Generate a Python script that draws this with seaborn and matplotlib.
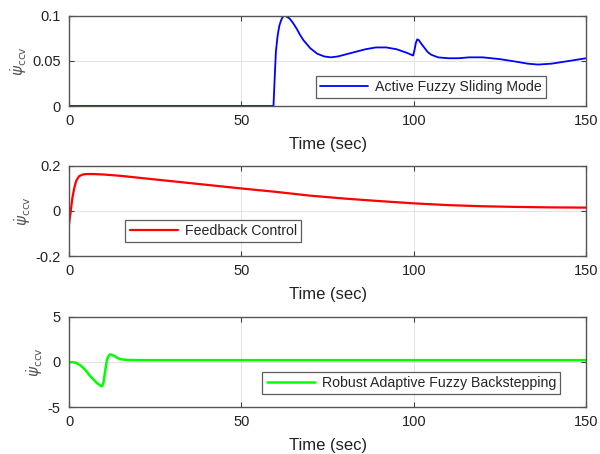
import numpy as np
import pandas as pd
import matplotlib
matplotlib.use("Agg")
import matplotlib.pyplot as plt
import seaborn as sns

# ==============================
# DATOS
# ==============================

t_fuzzy = [0, 59.3, 59.7, 60.0, 60.5, 61, 61.5, 62, 62.5, 63, 64, 65, 66, 67, 68, 70, 72,
           74, 76, 78, 80, 83, 86, 89, 92, 95, 98, 99.8, 100.2, 100.6, 101, 101.5, 102,
           103, 104, 105, 107, 110, 113, 116, 120, 125, 130, 133, 136, 140, 145, 150]
psi_fuzzy = [0, 0, 0.035, 0.06, 0.078, 0.089, 0.095, 0.099, 0.1, 0.0995, 0.097, 0.092,
             0.086, 0.079, 0.073, 0.064, 0.058, 0.055, 0.054, 0.055, 0.057, 0.060, 0.063,
             0.065, 0.065, 0.063, 0.059, 0.056, 0.062, 0.070, 0.074, 0.073, 0.070, 0.065,
             0.060, 0.057, 0.054, 0.053, 0.053, 0.054, 0.054, 0.052, 0.049, 0.047, 0.046,
             0.047, 0.050, 0.053]

t_feedback = [0, 0.5, 1, 1.5, 2, 2.5, 3, 4, 5, 7, 10, 15, 20, 30, 40, 50, 60, 70, 80, 90,
              100, 110, 120, 130, 140, 150]
psi_feedback = [-0.06, 0.0, 0.06, 0.10, 0.13, 0.145, 0.155, 0.162, 0.164, 0.164, 0.162,
                0.156, 0.148, 0.132, 0.116, 0.100, 0.085, 0.068, 0.055, 0.044, 0.034,
                0.026, 0.021, 0.018, 0.016, 0.015]

t_backstep = [0, 1, 2, 3, 4, 5, 6, 7, 8, 9, 9.6, 10, 10.5, 11, 11.5, 12, 13, 14, 15, 17,
              20, 50, 100, 150]
psi_backstep = [-0.05, -0.02, -0.1, -0.3, -0.6, -1.0, -1.5, -1.9, -2.3, -2.6, -2.7, -2.3,
                -1.0, 0.2, 0.7, 0.85, 0.7, 0.45, 0.3, 0.22, 0.2, 0.2, 0.2, 0.2]

# ==============================
# CONFIGURACIÓN GENERAL
# ==============================

sns.set_theme(style="white")
plt.rcParams["font.family"] = ["Liberation Sans", "DejaVu Sans"]
plt.rcParams["axes.unicode_minus"] = False
plt.rcParams["mathtext.fontset"] = "dejavusans"

fig = plt.figure(figsize=(6.0, 4.54), dpi=100)

paneles = [
    (t_fuzzy, psi_fuzzy, "#0000ff", 1.3, "Active Fuzzy Sliding Mode",
     (0, 0.1), [0, 0.05, 0.1], ["0", "0.05", "0.1"], 0.7665, (0.70, 0.21)),
    (t_feedback, psi_feedback, "#ff0000", 1.6, "Feedback Control",
     (-0.2, 0.2), [-0.2, 0, 0.2], ["-0.2", "0", "0.2"], 0.436, (0.279, 0.28)),
    (t_backstep, psi_backstep, "#00ff00", 1.8, "Robust Adaptive Fuzzy Backstepping",
     (-5, 5), [-5, 0, 5], ["-5", "0", "5"], 0.1035, (0.662, 0.267)),
]

for t, psi, color, lw, nombre, ylim, yticks, ylabels, bottom, loc in paneles:
    ax = fig.add_axes([0.115, bottom, 0.862, 0.1985])
    df = pd.DataFrame({"t": t, "psi": psi})
    sns.lineplot(data=df, x="t", y="psi", ax=ax, color=color, linewidth=lw,
                 label=nombre, sort=False)

    ax.set_xlim(0, 150)
    ax.set_ylim(*ylim)
    ax.set_xticks([0, 50, 100, 150])
    ax.set_xticklabels(["0", "50", "100", "150"])
    ax.set_yticks(yticks)
    ax.set_yticklabels(ylabels)
    ax.grid(True, color="#e3e3e3", linewidth=0.7)
    ax.tick_params(direction="in", length=3.5, width=0.8, colors="#404040",
                   labelsize=10.5, labelcolor="#222222", top=True, right=True,
                   bottom=True, left=True, pad=6)
    for s in ax.spines.values():
        s.set_color("#555555")
        s.set_linewidth(1.0)

    ax.set_xlabel("Time (sec)", fontsize=12, color="#222222", labelpad=6)
    ax.set_ylabel(r"$\dot{\psi}_{\rm ccv}$", fontsize=11, color="#555555", labelpad=2)

    leg = ax.legend(loc="center", bbox_to_anchor=loc, fontsize=10.2, frameon=True,
                    fancybox=False, handlelength=3.4, borderpad=0.3,
                    handletextpad=0.5)
    leg.get_frame().set_edgecolor("#333333")
    leg.get_frame().set_linewidth(0.9)

fig.savefig("out.png", dpi=100)
